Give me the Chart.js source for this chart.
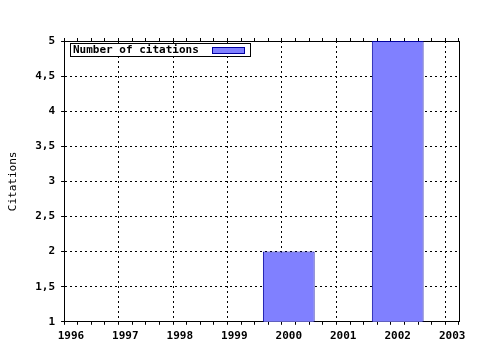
<!DOCTYPE html>
<html>
<head>
<meta charset="utf-8">
<script src="https://cdn.jsdelivr.net/npm/chart.js@4/dist/chart.umd.min.js"></script>
<style>
  html, body { margin: 0; padding: 0; background: #fff; }
  #wrap { width: 480px; height: 350px; }
</style>
</head>
<body>
<div id="wrap"><canvas id="chart"></canvas></div>
<script>
// data
const years = [2000, 2002];
const citations = [2, 5];
const xRange = [1996, 2003];
const yRange = [1, 5];
const seriesLabel = "Number of citations";
const yTitle = "Citations";

Chart.defaults.font.family = "'DejaVu Sans Mono', monospace";
Chart.defaults.font.size = 11;
Chart.defaults.color = "#000";

// legend box drawn inside the plot, top-left
const boxLegend = {
  id: "boxLegend",
  afterDraw(chart) {
    const ds = chart.data.datasets[0];
    const { ctx, chartArea: a } = chart;
    ctx.save();
    ctx.font = "bold 11px 'DejaVu Sans Mono'";
    const x = Math.round(a.left) + 6, y = Math.round(a.top) + 2;
    const w = Math.round(ctx.measureText(ds.label).width) + 54, h = 13;
    ctx.fillStyle = "#fff";
    ctx.fillRect(x, y, w, h);
    ctx.strokeStyle = "#000";
    ctx.lineWidth = 1;
    ctx.strokeRect(x + 0.5, y + 0.5, w, h);
    ctx.fillStyle = "#000";
    ctx.textBaseline = "middle";
    ctx.fillText(ds.label, x + 3, y + h / 2 + 1);
    ctx.fillStyle = ds.backgroundColor;
    ctx.fillRect(x + w - 38, y + 4, 32, 6);
    ctx.strokeStyle = ds.borderColor;
    ctx.strokeRect(x + w - 38 + 0.5, y + 4.5, 32, 6);
    ctx.restore();
  }
};

const dotted = [2, 3];
const yearLine = c => (c.tick && Number.isInteger(c.tick.value)) ? "#000" : "rgba(0,0,0,0)";

new Chart(document.getElementById("chart"), {
  type: "bar",
  data: {
    datasets: [{
      label: seriesLabel,
      data: years.map((yr, i) => ({ x: yr, y: citations[i] })),
      xAxisID: "x",
      yAxisID: "y",
      backgroundColor: "#8080ff",
      borderColor: "#0000a0",
      borderWidth: 1,
      borderSkipped: "start",
      // ruler spacing is the quarter-year minor tick, bar ~ 0.9 year
      categoryPercentage: 1,
      barPercentage: 3.8
    }]
  },
  plugins: [boxLegend],
  options: {
    responsive: true,
    maintainAspectRatio: false,
    animation: false,
    layout: { padding: { left: 3, right: 21, top: 38, bottom: 2 } },
    plugins: {
      legend: { display: false },
      tooltip: { enabled: false }
    },
    scales: {
      x: {
        type: "linear",
        position: "bottom",
        min: xRange[0],
        max: xRange[1],
        ticks: {
          stepSize: 0.25,
          autoSkip: false,
          maxRotation: 0,
          padding: 5,
          font: { weight: "bold" },
          callback: v => Number.isInteger(v) ? String(v) : ""
        },
        grid: {
          color: yearLine,
          tickColor: "#000",
          tickLength: 3,
          tickBorderDash: []
        },
        border: { color: "#000", dash: dotted }
      },
      xt: {
        type: "linear",
        position: "top",
        min: xRange[0],
        max: xRange[1],
        ticks: { stepSize: 0.25, display: false },
        grid: { drawOnChartArea: false, tickLength: 3, color: "#000" },
        border: { color: "#000" }
      },
      y: {
        type: "linear",
        position: "left",
        min: yRange[0],
        max: yRange[1],
        ticks: {
          stepSize: 0.5,
          padding: 6,
          font: { weight: "bold" },
          callback: v => String(v).replace(".", ",")
        },
        title: {
          display: true,
          text: yTitle,
          font: { size: 11 },
          padding: { top: 4, bottom: 9 }
        },
        grid: {
          color: "#000",
          tickColor: "#000",
          tickLength: 3,
          tickBorderDash: []
        },
        border: { color: "#000", dash: dotted }
      },
      yr: {
        type: "linear",
        position: "right",
        min: yRange[0],
        max: yRange[1],
        ticks: { stepSize: 0.5, display: false },
        grid: { drawOnChartArea: false, drawTicks: false },
        border: { color: "#000" }
      }
    }
  }
});
</script>
</body>
</html>
